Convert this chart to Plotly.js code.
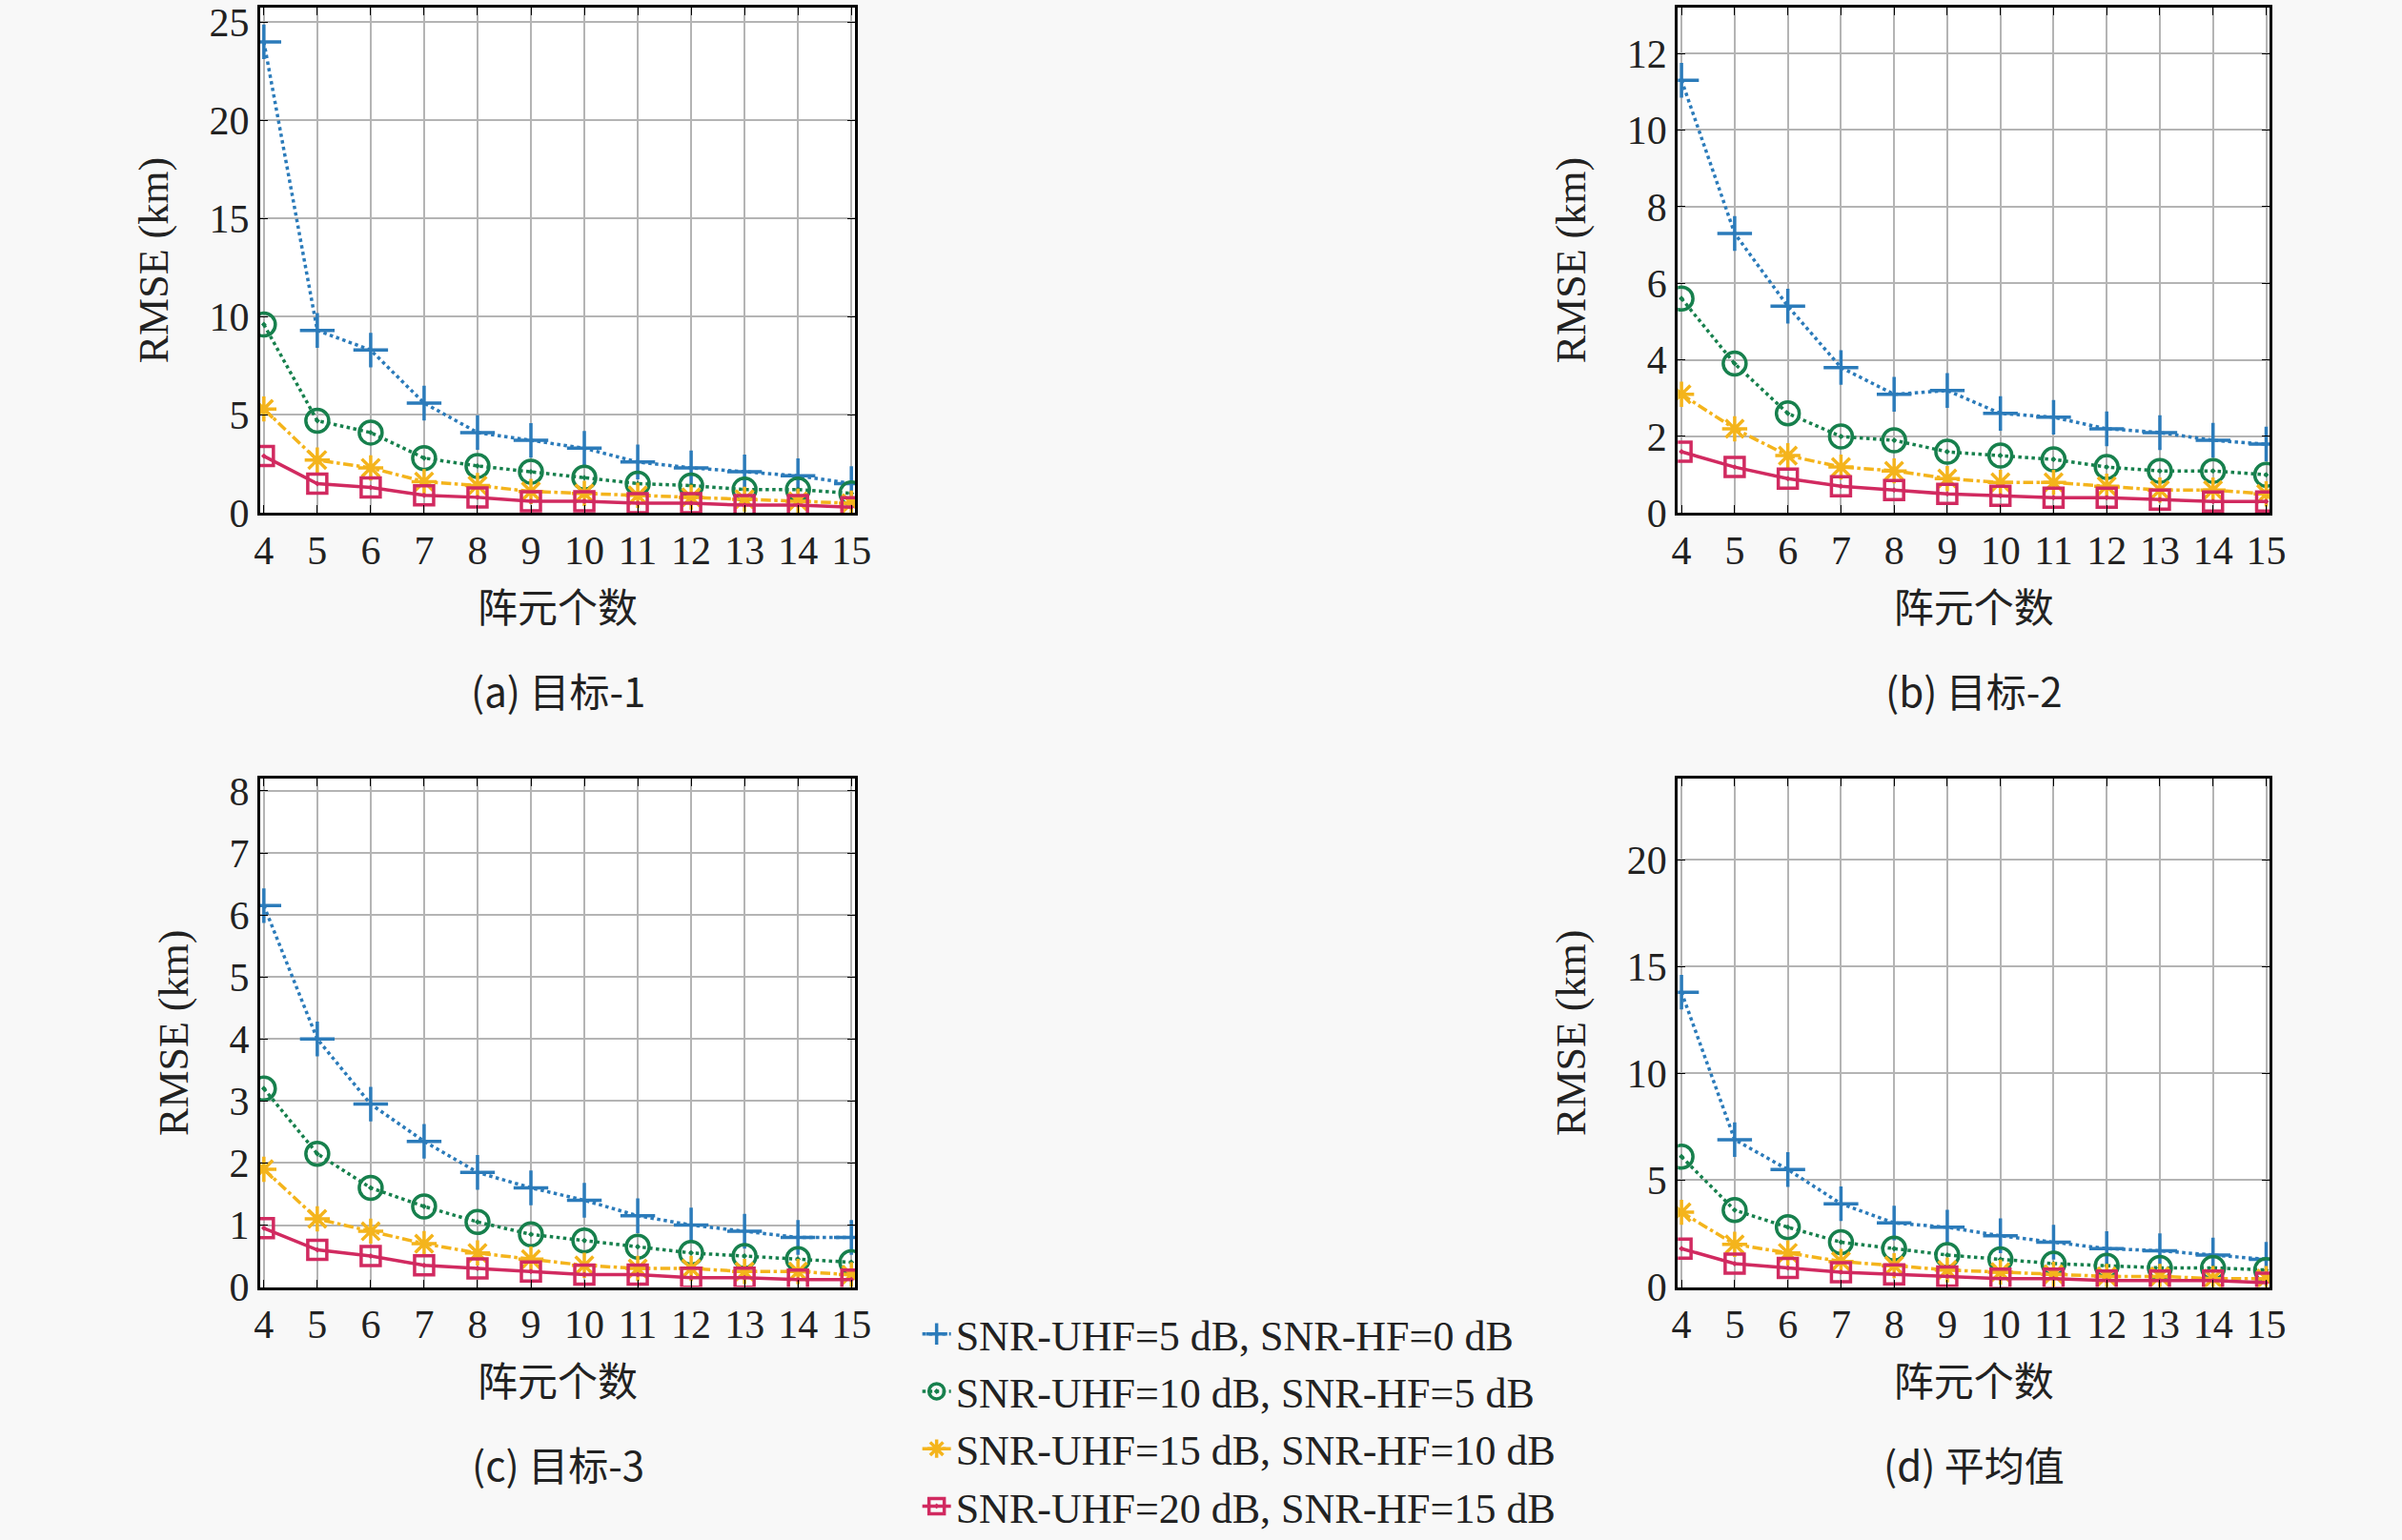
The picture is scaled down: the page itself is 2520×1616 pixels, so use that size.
<!DOCTYPE html>
<html>
<head>
<meta charset="utf-8">
<script src="https://cdn.plot.ly/plotly-3.0.1.min.js"></script>
<style>
  html, body { margin: 0; padding: 0; background: #f8f8f8; }
  #chart { width: 2520px; height: 1616px; }
</style>
</head>
<body>
<div id="chart"></div>
<script>
// array size (x axis)
const elements = [4, 5, 6, 7, 8, 9, 10, 11, 12, 13, 14, 15];

const seriesNames = [
    'SNR-UHF=5 dB, SNR-HF=0 dB',
    'SNR-UHF=10 dB, SNR-HF=5 dB',
    'SNR-UHF=15 dB, SNR-HF=10 dB',
    'SNR-UHF=20 dB, SNR-HF=15 dB'
];

// (a) target 1
const t1_s1 = [24.0, 9.3, 8.3, 5.6, 4.1, 3.7, 3.3, 2.6, 2.3, 2.1, 1.9, 1.5];
const t1_s2 = [9.6, 4.7, 4.1, 2.8, 2.4, 2.1, 1.8, 1.5, 1.4, 1.2, 1.2, 1.0];
const t1_s3 = [5.3, 2.7, 2.3, 1.6, 1.4, 1.1, 1.0, 0.9, 0.8, 0.7, 0.6, 0.5];
const t1_s4 = [2.9, 1.5, 1.3, 0.9, 0.8, 0.6, 0.6, 0.5, 0.5, 0.4, 0.4, 0.3];
// (b) target 2
const t2_s1 = [11.3, 7.3, 5.4, 3.8, 3.1, 3.2, 2.6, 2.5, 2.2, 2.1, 1.9, 1.8];
const t2_s2 = [5.6, 3.9, 2.6, 2.0, 1.9, 1.6, 1.5, 1.4, 1.2, 1.1, 1.1, 1.0];
const t2_s3 = [3.1, 2.2, 1.5, 1.2, 1.1, 0.9, 0.8, 0.8, 0.7, 0.6, 0.6, 0.5];
const t2_s4 = [1.6, 1.2, 0.9, 0.7, 0.6, 0.5, 0.45, 0.4, 0.4, 0.35, 0.3, 0.3];
// (c) target 3
const t3_s1 = [6.15, 4.0, 2.95, 2.35, 1.85, 1.6, 1.4, 1.15, 1.0, 0.9, 0.8, 0.8];
const t3_s2 = [3.2, 2.15, 1.6, 1.3, 1.05, 0.85, 0.75, 0.65, 0.55, 0.5, 0.45, 0.4];
const t3_s3 = [1.9, 1.1, 0.9, 0.7, 0.55, 0.45, 0.35, 0.3, 0.3, 0.25, 0.25, 0.2];
const t3_s4 = [0.95, 0.6, 0.5, 0.35, 0.3, 0.25, 0.2, 0.2, 0.15, 0.15, 0.12, 0.12];
// (d) average
const avg_s1 = [13.8, 6.9, 5.5, 3.9, 3.0, 2.8, 2.4, 2.1, 1.8, 1.7, 1.5, 1.3];
const avg_s2 = [6.1, 3.6, 2.8, 2.1, 1.8, 1.5, 1.3, 1.1, 1.0, 0.9, 0.9, 0.8];
const avg_s3 = [3.5, 2.0, 1.6, 1.2, 1.0, 0.8, 0.7, 0.6, 0.5, 0.5, 0.4, 0.4];
const avg_s4 = [1.8, 1.1, 0.9, 0.7, 0.6, 0.5, 0.4, 0.4, 0.3, 0.3, 0.3, 0.2];

const captions = ['(a) 目标-1', '(b) 目标-2', '(c) 目标-3', '(d) 平均值'];

const panels = [
    { data: [t1_s1, t1_s2, t1_s3, t1_s4], yrange: [0, 25.75], dtick: 5 },
    { data: [t2_s1, t2_s2, t2_s3, t2_s4], yrange: [0, 13.2], dtick: 2 },
    { data: [t3_s1, t3_s2, t3_s3, t3_s4], yrange: [0, 8.2], dtick: 1 },
    { data: [avg_s1, avg_s2, avg_s3, avg_s4], yrange: [0, 23.8], dtick: 5 }
];

const styles = [
    { color: '#2b7bba', dash: 'dot', symbol: 'cross-thin-open', size: 26 },
    { color: '#17804d', dash: 'dot', symbol: 'circle-open-dot', size: 24 },
    { color: '#f4b41c', dash: 'dashdot', symbol: 'asterisk-open', size: 22 },
    { color: '#d12a60', dash: 'solid', symbol: 'square-open-dot', size: 20 }
];

const xDomains = [[0.1083, 0.356], [0.6985, 0.945], [0.1083, 0.356], [0.6985, 0.945]];
const yDomains = [[0.656, 0.995], [0.656, 0.995], [0.137, 0.478], [0.137, 0.478]];
const captionY = [0.538, 0.538, 0.019, 0.019];

const SERIF = 'Liberation Serif, DejaVu Serif, serif';
const CJK = 'Noto Sans CJK SC, Liberation Serif, serif';

const traces = [];
const layout = {
    width: 2520, height: 1616,
    margin: { t: 0, b: 0, l: 0, r: 0 },
    paper_bgcolor: '#f8f8f8',
    plot_bgcolor: '#ffffff',
    font: { family: SERIF, size: 40, color: '#222' },
    showlegend: true,
    legend: {
        x: 0.382, y: 0.128, xanchor: 'left', yanchor: 'top',
        bgcolor: 'rgba(0,0,0,0)', font: { size: 44, family: SERIF }, tracegroupgap: 0
    },
    annotations: []
};

panels.forEach((p, i) => {
    const k = i + 1;
    const xKey = 'xaxis' + (k === 1 ? '' : k);
    const yKey = 'yaxis' + (k === 1 ? '' : k);
    p.data.forEach((ys, s) => {
        const st = styles[s];
        traces.push({
            type: 'scatter', mode: 'lines+markers',
            x: elements, y: ys,
            name: seriesNames[s],
            showlegend: i === 0,
            line: { color: st.color, dash: st.dash, width: 3.5 },
            marker: { symbol: st.symbol, size: st.size, color: st.color, line: { width: 3.5, color: st.color } },
            xaxis: 'x' + k, yaxis: 'y' + k
        });
    });
    layout[xKey] = {
        domain: xDomains[i], anchor: 'y' + k,
        range: [3.93, 15.07], tickmode: 'array', tickvals: elements,
        ticks: 'inside', ticklen: 8, tickcolor: '#000',
        showline: true, mirror: 'ticks', linecolor: '#000', linewidth: 3,
        showgrid: true, gridcolor: '#b4b4b4', gridwidth: 1.5, zeroline: false,
        tickfont: { size: 42, family: SERIF },
        title: { text: '阵元个数', font: { size: 42, family: CJK }, standoff: 24 }
    };
    layout[yKey] = {
        domain: yDomains[i], anchor: 'x' + k,
        range: p.yrange, dtick: p.dtick,
        ticks: 'inside', ticklen: 8, tickcolor: '#000',
        showline: true, mirror: 'ticks', linecolor: '#000', linewidth: 3,
        showgrid: true, gridcolor: '#b4b4b4', gridwidth: 1.5, zeroline: false,
        tickfont: { size: 42, family: SERIF },
        title: { text: 'RMSE (km)', font: { size: 44, family: SERIF }, standoff: 30 }
    };
    layout.annotations.push({
        text: captions[i],
        xref: 'paper', yref: 'paper',
        x: (xDomains[i][0] + xDomains[i][1]) / 2,
        y: captionY[i],
        xanchor: 'center', yanchor: 'middle', showarrow: false,
        font: { size: 42, family: CJK }
    });
});

Plotly.newPlot('chart', traces, layout, { displayModeBar: false, responsive: false });
</script>
</body>
</html>
